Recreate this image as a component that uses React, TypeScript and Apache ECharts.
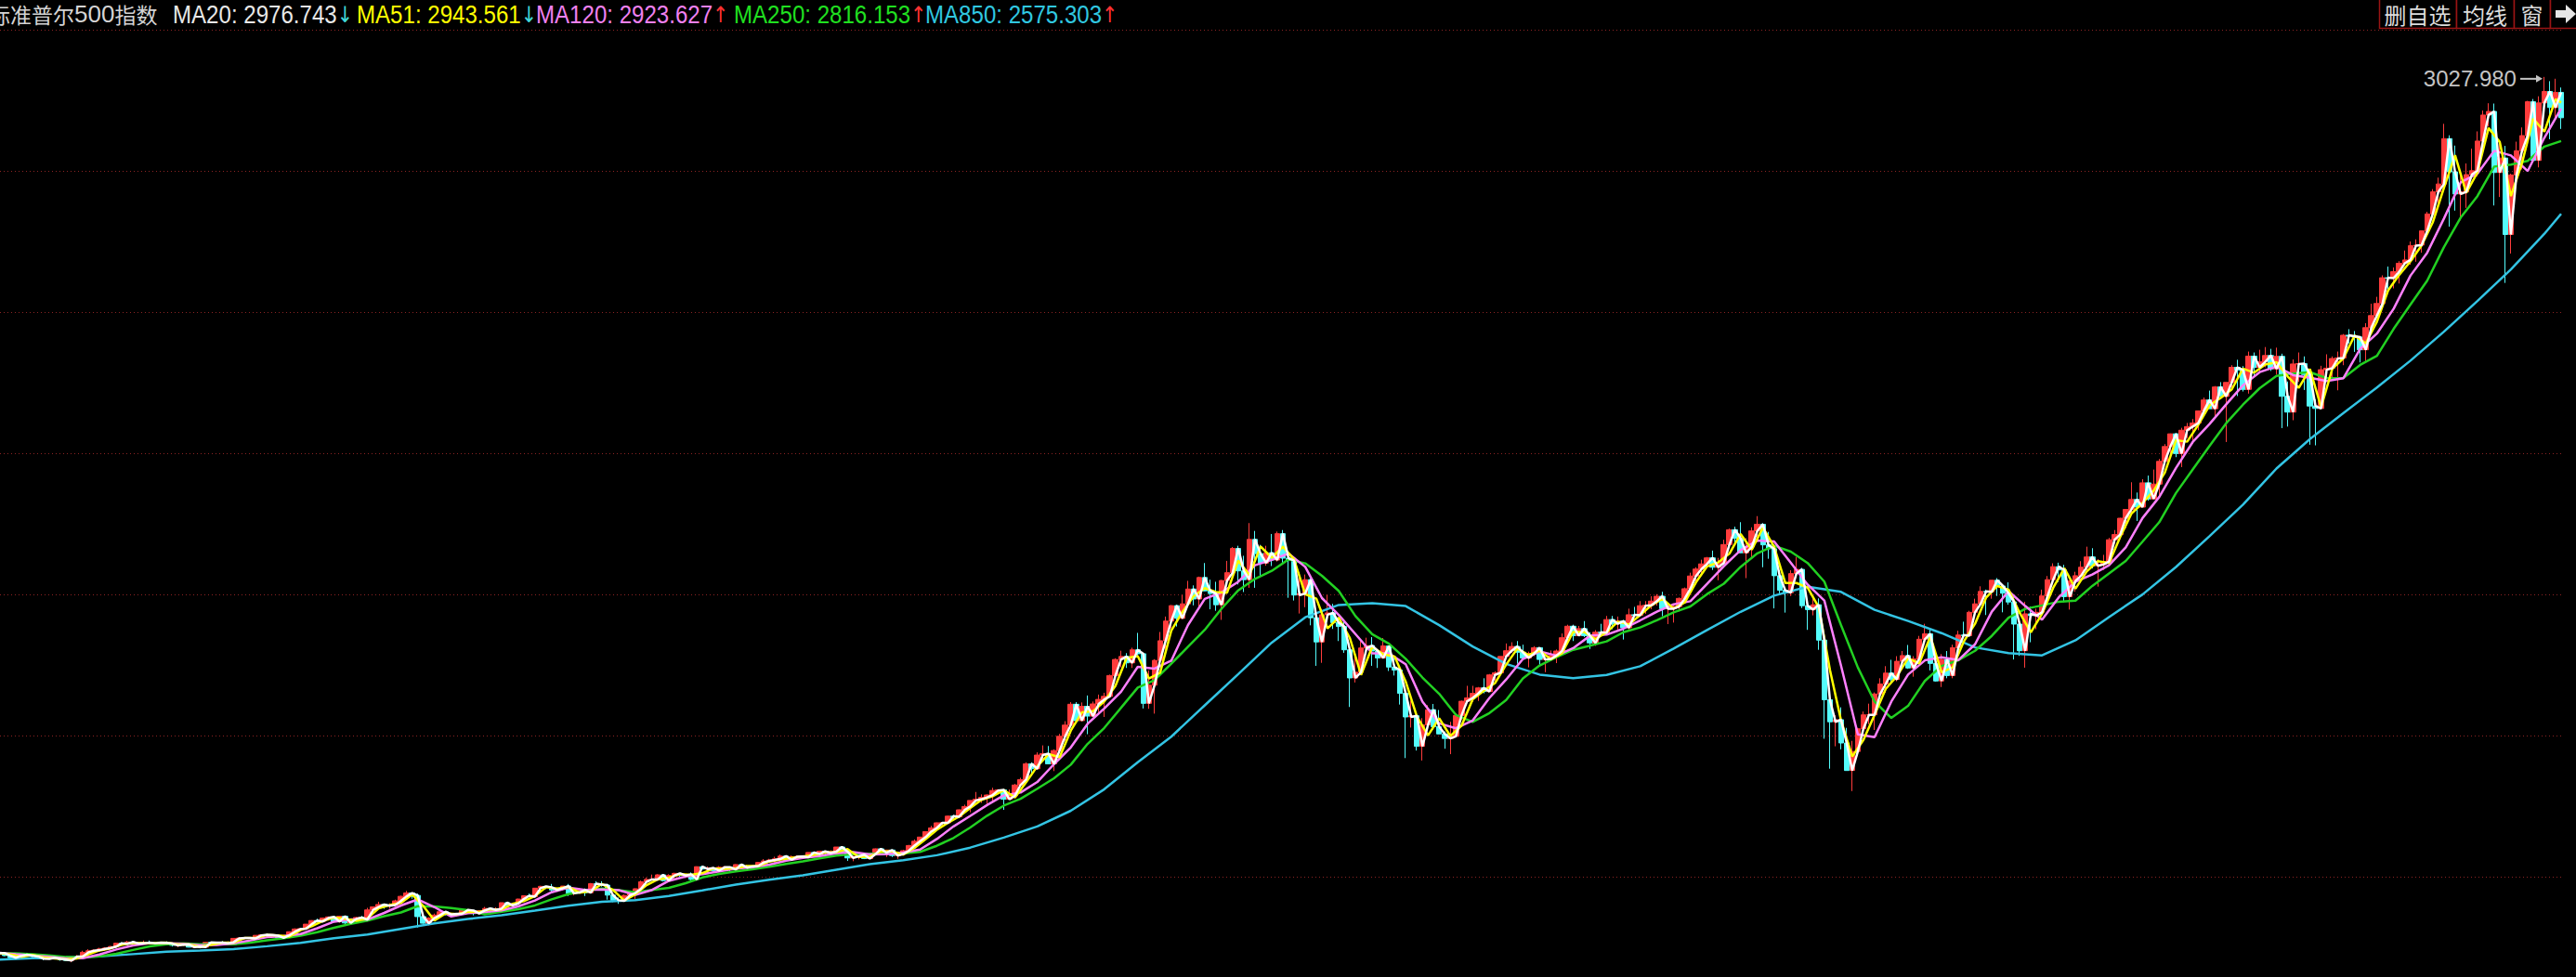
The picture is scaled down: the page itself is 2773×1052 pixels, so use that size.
import React, { useEffect, useRef } from "react";
import * as echarts from "echarts";

// ---------- DATA ----------
const FIRST_YEAR = 1981;
const FIRST_MONTH = 7;
const PEAK_HIGH = 3027.98;

// monthly candles: [open, close, low, high]
const OHLC: number[][] = [
  // 1981 Jul-Dec
  [131,131,128,133],[131,123,121,134],[123,116,112,124],[116,122,115,124],[122,126,119,127],[126,123,121,127],
  // 1982
  [123,120,114,124],[120,113,112,121],[113,112,108,114],[112,116,112,120],[116,112,111,120],[112,110,106,113],[110,107,106,115],[107,120,101,122],[120,120,118,125],[120,134,119,139],[134,139,133,144],[139,141,134,143],
  // 1983
  [141,145,137,149],[145,148,140,151],[148,153,146,155],[153,164,151,166],[164,162,159,167],[162,168,160,172],[168,163,159,172],[163,164,159,166],[164,166,162,173],[166,164,161,173],[164,166,161,168],[166,165,162,168],
  // 1984
  [165,163,161,170],[163,157,153,164],[157,159,151,161],[159,160,155,162],[160,151,150,162],[151,153,149,156],[153,151,147,155],[151,167,150,168],[167,166,163,168],[166,166,161,169],[166,164,162,171],[164,167,160,170],
  // 1985
  [167,180,163,181],[180,181,178,184],[181,181,177,184],[181,180,178,183],[180,190,178,190],[190,192,187,193],[192,191,189,196],[191,189,185,193],[189,182,180,190],[182,190,181,191],[190,202,189,203],[202,211,201,213],
  // 1986
  [211,212,203,214],[212,227,210,227],[227,239,224,240],[239,236,234,245],[236,247,233,249],[247,251,239,252],[251,236,233,253],[236,253,232,254],[253,231,227,254],[231,244,230,246],[244,249,240,251],[249,242,241,254],
  // 1987
  [242,274,242,281],[274,284,272,285],[284,292,282,301],[292,288,278,294],[288,290,278,296],[290,304,288,308],[304,319,302,321],[319,330,317,337],[330,322,311,330],[322,252,216,328],[252,230,228,256],[230,247,223,250],
  // 1988
  [247,257,242,262],[257,268,254,269],[268,259,256,271],[259,261,256,265],[261,262,253,263],[262,274,262,276],[274,272,263,275],[272,262,256,274],[262,272,261,273],[272,279,271,284],[279,274,263,280],[274,278,271,283],
  // 1989
  [278,298,274,298],[298,289,287,301],[289,295,287,298],[295,310,293,311],[310,321,308,322],[321,318,316,328],[318,346,317,346],[346,352,340,354],[352,349,343,353],[349,340,331,360],[340,346,337,347],[346,353,339,353],
  // 1990
  [353,329,320,360],[329,332,322,336],[332,340,331,345],[340,331,320,345],[331,361,330,363],[361,358,355,369],[358,356,351,369],[356,323,308,360],[323,306,300,325],[306,304,294,315],[304,322,303,325],[322,330,322,333],
  // 1991
  [330,344,309,345],[344,367,341,371],[367,375,362,381],[375,375,371,391],[375,390,372,392],[390,371,368,393],[371,388,370,392],[388,395,377,397],[395,388,384,396],[388,392,379,393],[392,375,372,398],[375,417,371,418],
  // 1992
  [417,409,406,420],[409,413,407,418],[413,404,401,413],[404,415,399,419],[415,415,411,419],[415,408,403,415],[408,424,407,425],[424,414,411,425],[414,418,413,423],[418,419,407,419],[419,431,418,432],[431,436,430,442],
  // 1993
  [436,439,433,443],[439,443,431,450],[443,452,442,457],[452,440,437,453],[440,450,437,454],[450,451,442,453],[451,448,443,451],[448,464,447,464],[464,459,453,464],[459,468,457,470],[468,462,458,469],[462,467,461,471],
  // 1994
  [467,482,464,482],[482,467,465,482],[467,446,436,472],[446,451,435,453],[451,457,441,459],[457,444,442,460],[444,458,444,459],[458,476,456,477],[476,463,460,476],[463,472,449,473],[472,454,449,474],[454,459,443,465],
  // 1995
  [459,470,459,473],[470,487,469,489],[487,501,484,507],[501,515,501,515],[515,533,511,533],[533,545,531,552],[545,562,539,563],[562,562,553,565],[562,584,560,586],[584,582,573,588],[582,605,579,606],[605,616,598,622],
  // 1996
  [616,636,597,636],[636,640,633,664],[640,646,628,656],[646,654,624,656],[654,669,630,678],[669,671,658,673],[671,640,605,673],[640,652,639,672],[652,687,650,691],[687,705,683,711],[705,757,703,762],[757,741,722,762],
  // 1997
  [741,786,737,795],[786,791,773,818],[791,757,756,816],[757,801,733,805],[801,848,794,856],[848,885,833,898],[885,954,884,961],[954,900,896,961],[900,947,897,960],[947,915,855,983],[915,955,912,963],[955,970,928,986],
  // 1998
  [970,980,912,992],[980,1049,979,1052],[1049,1102,1047,1106],[1102,1112,1076,1131],[1112,1091,1074,1123],[1091,1134,1074,1141],[1134,1121,1114,1190],[1121,957,940,1121],[957,1017,939,1066],[1017,1099,923,1103],[1099,1164,1096,1193],[1164,1229,1137,1244],
  // 1999
  [1229,1280,1205,1282],[1280,1238,1211,1283],[1238,1286,1236,1316],[1286,1335,1282,1362],[1335,1302,1281,1347],[1302,1373,1277,1376],[1373,1329,1328,1421],[1329,1320,1268,1366],[1320,1283,1263,1359],[1283,1363,1233,1365],[1363,1389,1348,1428],[1389,1469,1387,1474],
  // 2000
  [1469,1395,1350,1478],[1395,1366,1325,1445],[1366,1499,1339,1553],[1499,1452,1339,1527],[1452,1421,1373,1481],[1421,1455,1412,1478],[1455,1431,1411,1517],[1431,1518,1426,1525],[1518,1437,1420,1530],[1437,1429,1306,1454],[1429,1315,1297,1439],[1315,1320,1254,1390],
  // 2001
  [1320,1366,1275,1383],[1366,1240,1215,1377],[1240,1160,1081,1268],[1160,1250,1091,1269],[1250,1256,1233,1316],[1256,1224,1203,1286],[1224,1211,1163,1240],[1211,1134,1124,1227],[1134,1041,945,1134],[1041,1060,1026,1111],[1060,1140,1054,1163],[1140,1148,1124,1174],
  // 2002
  [1148,1130,1081,1176],[1130,1107,1074,1131],[1107,1147,1106,1173],[1147,1077,1064,1147],[1077,1067,1049,1107],[1067,990,953,1068],[990,912,776,994],[912,916,877,966],[916,815,801,925],[815,886,768,908],[886,936,877,951],[936,880,870,955],
  // 2003
  [880,856,855,935],[856,841,807,864],[841,848,789,896],[848,917,847,924],[917,964,902,966],[964,975,960,1015],[975,990,961,1015],[990,1008,965,1011],[1008,996,990,1040],[996,1051,996,1054],[1051,1058,1032,1063],[1058,1112,1056,1112],
  // 2004
  [1112,1131,1105,1155],[1131,1145,1124,1159],[1145,1126,1088,1163],[1126,1107,1102,1151],[1107,1121,1076,1128],[1121,1141,1113,1146],[1141,1102,1079,1141],[1102,1104,1060,1109],[1104,1115,1100,1132],[1115,1130,1090,1135],[1130,1174,1128,1188],[1174,1212,1162,1217],
  // 2005
  [1212,1181,1163,1217],[1181,1204,1180,1213],[1204,1181,1176,1229],[1181,1157,1137,1192],[1157,1192,1147,1199],[1192,1191,1187,1220],[1191,1234,1191,1246],[1234,1220,1202,1246],[1220,1229,1201,1244],[1229,1207,1168,1233],[1207,1250,1201,1270],[1250,1248,1246,1276],
  // 2006
  [1248,1280,1245,1295],[1280,1281,1253,1295],[1281,1295,1268,1311],[1295,1311,1280,1318],[1311,1270,1245,1326],[1270,1270,1219,1284],[1270,1277,1224,1283],[1277,1304,1261,1307],[1304,1336,1290,1340],[1336,1378,1331,1389],[1378,1401,1360,1407],[1401,1418,1385,1432],
  // 2007
  [1418,1438,1403,1441],[1438,1407,1398,1462],[1407,1421,1364,1438],[1421,1482,1416,1498],[1482,1531,1481,1535],[1531,1503,1484,1541],[1503,1455,1454,1556],[1455,1474,1371,1503],[1474,1527,1439,1539],[1527,1549,1490,1576],[1549,1481,1407,1553],[1481,1468,1435,1524],
  // 2008
  [1468,1379,1271,1472],[1379,1331,1316,1396],[1331,1323,1257,1341],[1323,1386,1312,1397],[1386,1400,1373,1441],[1400,1280,1272,1405],[1280,1267,1200,1292],[1267,1283,1248,1314],[1283,1166,1134,1304],[1166,969,840,1168],[969,896,741,1007],[896,903,815,918],
  // 2009
  [903,826,805,944],[826,735,735,876],[735,798,667,833],[798,873,784,876],[873,919,868,930],[919,919,888,956],[919,988,869,993],[988,1021,978,1040],[1021,1057,992,1080],[1057,1036,1020,1101],[1036,1096,1030,1113],[1096,1115,1086,1130],
  // 2010
  [1115,1074,1071,1150],[1074,1104,1045,1113],[1104,1169,1101,1180],[1169,1187,1165,1220],[1187,1089,1066,1206],[1089,1031,1029,1131],[1031,1102,1011,1120],[1102,1049,1040,1130],[1049,1141,1040,1151],[1141,1183,1132,1197],[1183,1181,1174,1227],[1181,1258,1180,1263],
  // 2011
  [1258,1286,1257,1303],[1286,1327,1283,1344],[1327,1326,1249,1333],[1326,1364,1303,1364],[1364,1345,1312,1371],[1345,1321,1258,1346],[1321,1292,1283,1357],[1292,1219,1102,1308],[1219,1131,1114,1231],[1131,1253,1075,1293],[1253,1247,1159,1277],[1247,1258,1202,1270],
  // 2012
  [1258,1312,1258,1333],[1312,1366,1311,1378],[1366,1409,1354,1420],[1409,1398,1358,1422],[1398,1310,1292,1415],[1310,1362,1267,1364],[1362,1379,1326,1392],[1379,1407,1375,1427],[1407,1441,1397,1475],[1441,1412,1403,1470],[1412,1416,1343,1434],[1416,1426,1398,1448],
  // 2013
  [1426,1498,1426,1504],[1498,1515,1485,1530],[1515,1569,1501,1570],[1569,1598,1536,1598],[1598,1631,1581,1688],[1631,1606,1560,1654],[1606,1686,1605,1698],[1686,1633,1627,1710],[1633,1682,1633,1730],[1682,1757,1646,1765],[1757,1806,1746,1814],[1806,1848,1768,1849],
  // 2014
  [1848,1783,1771,1851],[1783,1860,1738,1868],[1860,1872,1834,1884],[1872,1884,1815,1897],[1884,1924,1860,1925],[1924,1960,1915,1968],[1960,1931,1931,1991],[1931,2003,1905,2006],[2003,1972,1964,2019],[1972,2018,1821,2018],[2018,2068,2001,2075],[2068,2059,1973,2093],
  // 2015
  [2059,1995,1988,2072],[1995,2105,1981,2120],[2105,2068,2040,2117],[2068,2086,2049,2126],[2086,2107,2068,2135],[2107,2063,2056,2129],[2063,2104,2044,2133],[2104,1972,1867,2113],[1972,1920,1872,2021],[1920,2079,1893,2094],[2079,2080,2020,2117],[2080,2044,1993,2104],
  // 2016
  [2044,1940,1812,2044],[1940,1932,1810,1962],[1932,2060,1932,2073],[2060,2065,2034,2111],[2065,2097,2025,2104],[2097,2099,1992,2120],[2099,2174,2075,2178],[2174,2171,2147,2194],[2171,2168,2119,2188],[2168,2126,2084,2169],[2126,2199,2084,2214],[2199,2239,2188,2278],
  // 2017
  [2239,2279,2239,2301],[2279,2364,2267,2372],[2364,2363,2322,2401],[2363,2384,2329,2398],[2384,2412,2345,2419],[2412,2423,2407,2454],[2423,2470,2407,2484],[2470,2472,2417,2491],[2472,2519,2447,2520],[2519,2575,2519,2582],[2575,2648,2566,2657],[2648,2674,2605,2695],
  // 2018
  [2674,2824,2674,2873],[2824,2714,2533,2835],[2714,2641,2586,2801],[2641,2648,2554,2718],[2648,2705,2595,2742],[2705,2718,2691,2791],[2718,2816,2699,2848],[2816,2902,2796,2917],[2902,2914,2864,2941],[2914,2712,2603,2940],[2712,2760,2631,2816],[2760,2507,2347,2800],
  // 2019 Jan-Oct
  [2507,2704,2444,2708],[2704,2784,2682,2814],[2784,2834,2722,2861],[2834,2946,2834,2949],[2946,2752,2750,2955],[2752,2942,2729,2964],[2942,2980,2942,3027.98],[2980,2927,2822,3014],[2927,2977,2892,3022],[2977,2893,2856,2993],
];

const MA20_STEP = 1;
const MA20 = [
  131,131,123,116,122,126,123,
  120,113,112,116,112,110,107,120,120,134,139,141,
  145,148,153,164,162,168,163,164,166,164,166,165,
  163,157,159,160,151,153,151,167,166,166,164,167,
  180,181,181,180,190,192,191,189,182,190,202,211,
  212,227,239,236,247,251,236,253,231,244,249,242,
  274,284,292,288,290,304,319,330,322,252,230,247,
  257,268,259,261,262,274,272,262,272,279,274,278,
  298,289,295,310,321,318,346,352,349,340,346,353,
  329,332,340,331,361,358,356,323,306,304,322,330,
  344,367,375,375,390,371,388,395,388,392,375,417,
  409,413,404,415,415,408,424,414,418,419,431,436,
  439,443,452,440,450,451,448,464,459,468,462,467,
  482,467,446,451,457,444,458,476,463,472,454,459,
  470,487,501,515,533,545,562,562,584,582,605,616,
  636,640,646,654,669,671,640,652,687,705,757,741,
  786,791,757,801,848,885,954,900,947,915,955,970,
  980,1049,1102,1112,1091,1134,1121,957,1017,1099,1164,1229,
  1280,1238,1286,1335,1302,1373,1329,1320,1283,1363,1389,1469,
  1395,1366,1499,1452,1421,1455,1431,1518,1437,1429,1315,1320,
  1366,1240,1160,1250,1256,1224,1211,1134,1041,1060,1140,1148,
  1130,1107,1147,1077,1067,990,912,916,815,886,936,880,
  856,841,848,917,964,975,990,1008,996,1051,1058,1112,
  1131,1145,1126,1107,1121,1141,1102,1104,1115,1130,1174,1212,
  1181,1204,1181,1157,1192,1191,1234,1220,1229,1207,1250,1248,
  1280,1281,1295,1311,1270,1270,1277,1304,1336,1378,1401,1418,
  1438,1407,1421,1482,1531,1503,1455,1474,1527,1549,1481,1468,
  1379,1331,1323,1386,1400,1280,1267,1283,1166,969,896,903,
  826,735,798,873,919,919,988,1021,1057,1036,1096,1115,
  1074,1104,1169,1187,1089,1031,1102,1049,1141,1183,1181,1258,
  1286,1327,1326,1364,1345,1321,1292,1219,1131,1253,1247,1258,
  1312,1366,1409,1398,1310,1362,1379,1407,1441,1412,1416,1426,
  1498,1515,1569,1598,1631,1606,1686,1633,1682,1757,1806,1848,
  1783,1860,1872,1884,1924,1960,1931,2003,1972,2018,2068,2059,
  1995,2105,2068,2086,2107,2063,2104,1972,1920,2079,2080,2044,
  1940,1932,2060,2065,2097,2099,2174,2171,2168,2126,2199,2239,
  2279,2364,2363,2384,2412,2423,2470,2472,2519,2575,2648,2674,
  2824,2714,2641,2648,2705,2718,2816,2902,2914,2712,2760,2507,
  2704,2784,2834,2946,2752,2942,2980,2927,
];
const MA51_STEP = 2;
const MA51 = [
  132,127,119,125,117,114,111,114,127,140,
  147,159,165,164,165,166,160,160,152,159,
  166,166,181,181,191,190,186,207,220,238,
  249,245,238,246,279,290,297,325,287,239,
  263,260,268,267,276,276,294,303,320,349,
  345,350,331,336,360,340,305,326,356,375,
  381,392,390,396,411,410,412,419,419,434,
  441,446,451,456,464,465,475,449,451,467,
  468,457,479,508,539,562,583,611,638,650,
  670,646,696,749,789,779,867,927,931,963,
  1015,1107,1113,1039,1058,1197,1259,1311,1338,1325,
  1323,1429,1381,1476,1438,1475,1433,1318,1303,1205,
  1240,1173,1051,1144,1119,1112,1029,914,851,908,
  849,883,970,999,1024,1085,1138,1117,1131,1103,
  1123,1193,1193,1169,1192,1227,1218,1249,1281,1303,
  1270,1291,1357,1410,1423,1452,1517,1465,1538,1475,
  1355,1355,1340,1275,1068,900,781,836,919,1005,
  1047,1106,1089,1178,1060,1076,1162,1220,1307,1345,
  1333,1256,1192,1253,1339,1404,1336,1393,1427,1421,
  1507,1584,1619,1660,1720,1827,1822,1878,1942,1967,
  1995,2064,2050,2077,2085,2038,2000,2062,1936,2063,
  2098,2173,2147,2219,2322,2374,2418,2471,2547,2661,
  2769,2645,2712,2859,2813,2634,2744,2890,2847,2954,
];
const MA120_STEP = 3;
const MA120 = [
  132.3,127.8,123.5,119.3,113.8,114.2,126.8,143.3,156.7,164.5,
  164.7,162.3,157.2,158.0,163.5,173.2,184.0,187.3,194.2,213.5,
  235.3,242.3,242.5,264.2,288.7,308.8,283.3,252.2,263.5,267.2,
  272.8,285.5,305.2,332.7,347.7,340.0,341.8,339.2,323.5,340.3,
  370.3,384.5,392.5,401.7,410.7,415.7,423.7,436.7,445.8,452.0,
  461.3,465.3,457.8,458.2,463.7,473.8,508.5,550.2,585.2,620.8,
  652.7,662.2,697.0,756.2,811.3,889.2,940.2,995.2,1078.0,1072.0,
  1097.8,1216.0,1302.3,1323.7,1358.8,1413.5,1431.3,1452.3,1408.3,1305.0,
  1249.3,1186.0,1122.3,1122.0,1086.3,962.8,890.8,874.5,900.2,975.0,
  1035.8,1103.8,1128.5,1115.0,1139.5,1180.3,1184.3,1203.8,1231.3,1260.2,
  1284.5,1294.7,1352.3,1410.5,1463.7,1495.3,1492.3,1421.8,1349.8,1297.0,
  1080.7,854.5,845.0,962.8,1052.2,1099.0,1109.0,1099.8,1152.3,1260.2,
  1328.2,1278.7,1233.3,1307.5,1359.5,1382.8,1413.5,1472.7,1569.5,1639.3,
  1735.3,1821.0,1880.5,1945.7,2008.5,2052.2,2070.7,2042.0,2033.2,2022.5,
  2032.2,2129.0,2179.5,2261.7,2370.8,2446.7,2559.7,2679.3,2708.3,2783.8,
  2768.5,2716.8,2827.0,
];
const MA250_STEP = 3;
const MA250 = [
  130.6,130.7,127.9,123.6,118.7,116.8,120.3,128.8,141.8,153.9,
  160.7,163.4,160.9,160.2,160.3,165.6,173.8,180.3,189.1,200.4,
  214.8,227.9,238.9,253.3,265.6,286.5,286.0,280.5,273.4,259.7,
  268.2,276.3,289.0,309.1,326.4,336.3,344.8,339.6,332.7,339.8,
  346.9,362.4,381.4,393.1,401.6,408.7,417.2,426.2,434.8,444.3,
  453.6,458.7,459.6,461.8,460.8,466.0,486.1,512.0,546.8,585.5,
  618.9,641.5,674.8,709.2,754.2,822.7,875.8,942.2,1009.1,1033.6,
  1087.9,1144.0,1200.1,1269.8,1330.6,1368.6,1395.1,1432.9,1419.8,1378.7,
  1328.8,1245.5,1185.8,1154.0,1104.3,1042.4,988.6,918.7,895.5,924.8,
  968.0,1039.4,1082.2,1109.4,1134.0,1147.7,1161.9,1192.1,1207.8,1232.0,
  1257.9,1277.4,1318.4,1352.6,1408.0,1452.9,1478.0,1458.6,1421.1,1359.4,
  1215.3,1075.8,962.8,908.7,948.6,1030.9,1080.6,1099.4,1130.7,1180.0,
  1240.3,1269.4,1280.8,1293.1,1296.4,1345.2,1386.5,1427.8,1491.5,1556.0,
  1652.4,1730.2,1807.9,1883.3,1944.5,1998.9,2039.6,2047.1,2051.9,2032.3,
  2032.7,2075.8,2105.8,2195.3,2275.2,2354.2,2465.3,2563.0,2634.0,2731.6,
  2738.4,2750.3,2797.8,
];
const MA850_STEP = 6;
const MA850 = [
  110.1,114.4,116.7,120.4,127.9,135.6,139.6,144.7,154.0,165.4,
  180.3,192.7,211.4,229.8,243.9,256.7,271.6,288.0,301.0,306.4,
  320.0,338.8,358.0,374.1,388.8,407.1,425.3,438.3,454.9,480.1,
  513.3,549.9,601.9,673.0,762.3,846.8,950.5,1053.4,1158.0,1241.6,
  1282.3,1288.1,1278.7,1215.7,1145.1,1087.4,1052.0,1040.5,1051.0,1079.7,
  1137.8,1199.7,1259.7,1313.0,1342.5,1325.5,1266.3,1229.3,1189.2,1141.9,
  1122.9,1115.5,1165.6,1242.2,1316.9,1408.0,1509.5,1613.9,1733.3,1831.0,
  1916.8,2001.1,2089.9,2185.7,2287.0,2391.8,2509.5,
];

const MA_NAMES = ["MA20", "MA51", "MA120", "MA250", "MA850"];
const MA_LAST = [2976.743, 2943.561, 2923.627, 2816.153, 2575.303];
const MA_RISING = [false, false, true, true, true];

// value range of the price pane: top gridline value and gridline step
const Y_TOP_VALUE = 3184.1;
const Y_STEP_VALUE = 466.7;
const Y_ROWS = 7;

const BUTTONS = ["删自选", "均线", "窗"];

// ---------- STYLE ----------
const BG = "#000000";
const UP = "#ff3c3c";
const DOWN = "#54fcfc";
const MA_COLORS = ["#ffffff", "#ffff00", "#ff80ff", "#22d022", "#33c4e4"];
const MA_TEXT_COLORS = ["#e8e8e8", "#ffff00", "#f080f0", "#20e020", "#30c8e0"];
const GRID_COLOR = "#8c2323";
const LATIN = "'Liberation Sans', Arial, sans-serif";
const CJK = "'Noto Sans CJK SC', 'Noto Sans CJK JP', sans-serif";

function buildMonths(n: number): string[] {
  const out: string[] = [];
  let y = FIRST_YEAR;
  let m = FIRST_MONTH;
  for (let i = 0; i < n; i++) {
    out.push(`${y}-${String(m).padStart(2, "0")}`);
    m++;
    if (m > 12) { m = 1; y++; }
  }
  return out;
}

export default function App() {
  const ref = useRef<HTMLDivElement>(null);

  useEffect(() => {
    document.body.style.margin = "0";
    document.body.style.background = BG;
    const el = ref.current!;
    const chart = echarts.init(el, null, { renderer: "svg" });

    const months = buildMonths(OHLC.length);
    const last = months[months.length - 1];
    const sampled = (arr: number[], step: number, lastVal: number) => {
      const pts: (string | number)[][] = arr.map((v, k) => [months[k * step], v]);
      pts.push([last, lastVal]);
      return pts;
    };
    const maData = [
      sampled(MA20, MA20_STEP, MA_LAST[0]),
      sampled(MA51, MA51_STEP, MA_LAST[1]),
      sampled(MA120, MA120_STEP, MA_LAST[2]),
      sampled(MA250, MA250_STEP, MA_LAST[3]),
      sampled(MA850, MA850_STEP, MA_LAST[4]),
    ];

    const yMin = Y_TOP_VALUE - Y_ROWS * Y_STEP_VALUE;

    const lineSeries = [4, 3, 2, 1, 0].map((k) => ({
      type: "line",
      name: MA_NAMES[k],
      data: maData[k],
      showSymbol: false,
      symbol: "none",
      smooth: false,
      lineStyle: { color: MA_COLORS[k], width: 2.5 },
      itemStyle: { color: MA_COLORS[k] },
      z: 3 + (4 - k),
      silent: true,
    }));

    // header texts
    const headerX = [186, 384, 577, 790, 996];
    const header: any[] = [
      {
        type: "text",
        x: -12,
        y: 15,
        style: {
          text: "{c|标准普尔}{n|500}{c|指数}",
          verticalAlign: "middle",
          rich: {
            c: { fontFamily: CJK, fontSize: 23, fill: "#d4d4d4" },
            n: { fontFamily: LATIN, fontSize: 26, fill: "#d4d4d4" },
          },
        },
      },
      ...MA_NAMES.map((nm, k) => ({
        type: "text",
        x: headerX[k],
        y: 15,
        scaleX: 0.86,
        style: {
          text: `{v|${nm}: ${MA_LAST[k].toFixed(3)}}{a|${MA_RISING[k] ? "↑" : "↓"}}`,
          verticalAlign: "middle",
          rich: {
            v: { fontFamily: LATIN, fontSize: 28, fill: MA_TEXT_COLORS[k] },
            a: { fontFamily: "'DejaVu Sans', sans-serif", fontSize: 24, fill: MA_RISING[k] ? "#ff3232" : "#40d8d8" },
          },
        },
      })),
    ];

    // buttons top-right
    const btnX = [2561, 2644, 2706, 2745];
    const buttons: any[] = [];
    BUTTONS.forEach((b, k) => {
      buttons.push({
        type: "rect",
        shape: { x: btnX[k] + 0.5, y: -1, width: btnX[k + 1] - btnX[k], height: 31.5 },
        style: { fill: BG, stroke: "#9a1414", lineWidth: 1.5 },
      });
      buttons.push({
        type: "text",
        x: (btnX[k] + btnX[k + 1]) / 2,
        y: 15,
        style: { text: b, fontFamily: CJK, fontSize: 24, fill: "#dcdcdc", align: "center", verticalAlign: "middle" },
      });
    });
    buttons.push({
      type: "rect",
      shape: { x: 2745.5, y: -1, width: 40, height: 31.5 },
      style: { fill: BG, stroke: "#9a1414", lineWidth: 1.5 },
    });
    buttons.push({
      type: "polygon",
      shape: { points: [[2751, 11], [2762, 11], [2762, 5], [2773, 15], [2762, 25], [2762, 19], [2751, 19]] },
      style: { fill: "#e6e6e6" },
    });

    const option: any = {
      animation: false,
      backgroundColor: BG,
      grid: {
        left: -4,
        width: 2764,
        top: 32,
        height: Y_ROWS * 152,
        containLabel: false,
        outerBoundsMode: "none",
      },
      xAxis: {
        type: "category",
        data: months,
        boundaryGap: true,
        show: false,
      },
      yAxis: {
        type: "value",
        min: yMin,
        max: Y_TOP_VALUE,
        interval: Y_STEP_VALUE,
        axisLine: { show: false },
        axisTick: { show: false },
        axisLabel: { show: false },
        splitLine: { show: true, lineStyle: { color: GRID_COLOR, width: 1, type: [1, 3] } },
      },
      series: [
        {
          type: "candlestick",
          data: OHLC,
          barWidth: 6,
          silent: true,
          z: 2,
          itemStyle: {
            color: UP,
            color0: DOWN,
            borderColor: UP,
            borderColor0: DOWN,
            borderColorDoji: UP,
            borderWidth: 1,
          },
        },
        ...lineSeries,
      ],
      graphic: [...header, ...buttons],
    };
    chart.setOption(option);

    // peak marker next to the highest high
    let maxIdx = 0;
    OHLC.forEach((r, i) => { if (r[3] > OHLC[maxIdx][3]) maxIdx = i; });
    const p = chart.convertToPixel({ gridIndex: 0 }, [maxIdx, OHLC[maxIdx][3]]) as number[];
    const px = p[0];
    const py = p[1] + 2;
    chart.setOption({
      graphic: [
        ...header,
        ...buttons,
        {
          type: "text",
          x: px - 30,
          y: py,
          style: { text: PEAK_HIGH.toFixed(3), fontFamily: LATIN, fontSize: 24, fill: "#c4c4c4", align: "right", verticalAlign: "middle" },
        },
        { type: "line", shape: { x1: px - 26, y1: py, x2: px - 5, y2: py }, style: { stroke: "#c4c4c4", lineWidth: 2 } },
        { type: "polygon", shape: { points: [[px - 9, py - 4], [px - 2, py], [px - 9, py + 4]] }, style: { fill: "#c4c4c4" } },
      ],
    });

    return () => chart.dispose();
  }, []);

  return (
    <div
      ref={ref}
      style={{ position: "fixed", left: 0, top: 0, width: 2773, height: 1052, background: BG }}
    />
  );
}
